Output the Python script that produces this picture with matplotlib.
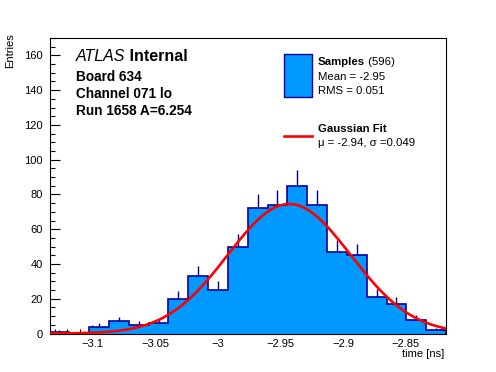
import numpy as np
import matplotlib
matplotlib.use("Agg")
import matplotlib.pyplot as plt
from matplotlib.ticker import MultipleLocator

plt.rcParams["font.family"] = ["Liberation Sans", "DejaVu Sans"]

# histogram: 20 bins between the sample min and max
X_MIN, X_MAX = -3.1341, -2.818
COUNTS = [1, 0, 4, 7, 5, 6, 20, 33, 25, 50, 72, 74, 85, 74, 47, 45, 21, 17, 8, 2]
N_SAMPLES = 596
MEAN, RMS = -2.95, 0.051

# gaussian fit parameters
FIT_AMP, FIT_MU, FIT_SIGMA = 74.5, -2.943, 0.049

FILL = "#0099ff"
EDGE = "#000099"

W, H = 496, 372
fig = plt.figure(figsize=(W / 100, H / 100), dpi=100)
L, R, T, B = 49.5, 446, 38, 333.5
ax = fig.add_axes([L / W, 1 - B / H, (R - L) / W, (B - T) / H])

counts = np.array(COUNTS, dtype=float)
edges = np.linspace(X_MIN, X_MAX, len(COUNTS) + 1)
centers = 0.5 * (edges[:-1] + edges[1:])
err = np.sqrt(counts)
nz = counts > 0

ax.vlines(centers[nz], (counts - err)[nz], (counts + err)[nz],
          color=EDGE, lw=1.0, zorder=1)
ax.stairs(counts, edges, fill=True, color=FILL, zorder=2)
ax.stairs(counts, edges, baseline=0, color=EDGE, lw=1.2, zorder=3)

xs = np.linspace(X_MIN, X_MAX, 400)
ax.plot(xs, FIT_AMP * np.exp(-0.5 * ((xs - FIT_MU) / FIT_SIGMA) ** 2),
        color="red", lw=1.9, zorder=4)

ax.set_xlim(X_MIN, X_MAX)
ax.set_ylim(0, 170)
ax.xaxis.set_major_locator(MultipleLocator(0.05))
ax.xaxis.set_minor_locator(MultipleLocator(0.01))
ax.yaxis.set_major_locator(MultipleLocator(20))
ax.yaxis.set_minor_locator(MultipleLocator(5))
ax.tick_params(which="both", direction="in", top=False, right=False, width=0.8)
ax.tick_params(axis="x", which="major", length=6.5, pad=4, labelsize=8)
ax.tick_params(axis="x", which="minor", length=3.3)
ax.tick_params(axis="y", which="major", length=7, pad=5, labelsize=8)
ax.tick_params(axis="y", which="minor", length=3.5)
ax.xaxis.set_major_formatter(plt.FuncFormatter(lambda v, p: f"{v:g}".replace("-", "\u2212")))
for s in ax.spines.values():
    s.set_linewidth(0.8)


def px(x, y):
    return x / W, 1 - y / H


renderer = fig.canvas.get_renderer()


def text_pair(x, y, first, second, size, style1, style2):
    t1 = fig.text(*px(x, y), first, fontsize=size, va="baseline", **style1)
    bb = t1.get_window_extent(renderer)
    fig.text(*px(bb.x1 - bb.x0 + x, y), second, fontsize=size, va="baseline", **style2)


fig.text(*px(444, 357), "time [ns]", fontsize=8, ha="right", va="baseline")
fig.text(*px(15, 33), "Entries", fontsize=8, ha="right", va="top", rotation=90)

text_pair(76, 61, "ATLAS", " Internal", 11.5, {"style": "italic"}, {"weight": "bold"})
fig.text(*px(76, 81), "Board 634", fontsize=9.8, weight="bold", va="baseline")
fig.text(*px(76, 98), "Channel 071 lo", fontsize=9.8, weight="bold", va="baseline")
fig.text(*px(76, 115), "Run 1658 A=6.254", fontsize=9.8, weight="bold", va="baseline")

# legend
fig.patches.append(plt.Rectangle(px(283.5, 96.5), 28 / W, 43 / H, transform=fig.transFigure,
                                 facecolor=FILL, edgecolor=EDGE, lw=1.0))
text_pair(317.5, 65, "Samples", f" ({N_SAMPLES})", 8.2, {"weight": "bold"}, {})
fig.text(*px(317.5, 79.5), f"Mean = {MEAN:.2f}", fontsize=8.2, va="baseline")
fig.text(*px(317.5, 93.5), f"RMS = {RMS:.3f}", fontsize=8.2, va="baseline")
fig.add_artist(plt.Line2D([283.5 / W, 312 / W], [1 - 135.7 / H] * 2, color="red", lw=1.9))
fig.text(*px(317.5, 132.5), "Gaussian Fit", fontsize=8.2, weight="bold", va="baseline")
fig.text(*px(317.5, 146), f"\u03bc = {FIT_MU:.2f}, \u03c3 ={FIT_SIGMA:.3f}", fontsize=8.2, va="baseline")

fig.savefig("out.png", dpi=100)
